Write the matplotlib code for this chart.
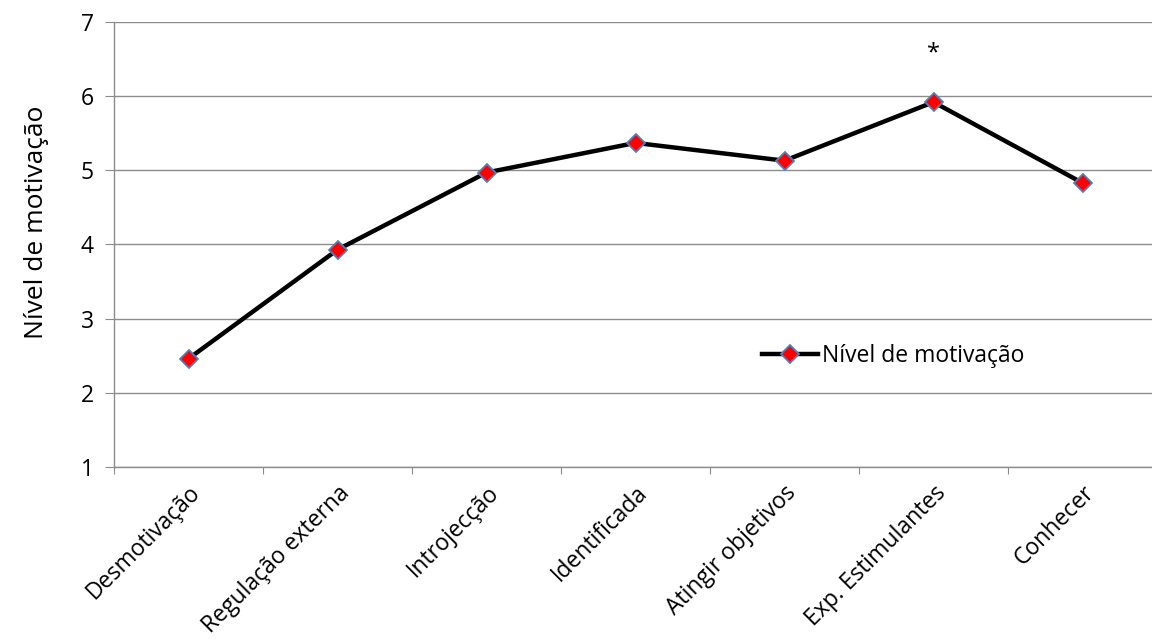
import matplotlib
matplotlib.use("Agg")
import matplotlib.pyplot as plt

categories = ["Desmotivação", "Regulação externa", "Introjecção", "Identificada",
              "Atingir objetivos", "Exp. Estimulantes", "Conhecer"]
values = [2.46, 3.93, 4.97, 5.37, 5.13, 5.92, 4.83]
series_name = "Nível de motivação"
y_ticks = [1, 2, 3, 4, 5, 6, 7]

plt.rcParams['font.family'] = ['Open Sans', 'DejaVu Sans']
FS = 16.5

fig = plt.figure(figsize=(11.52, 6.41), dpi=100)
ax = fig.add_axes([114/1152, (641-467)/641, 1043/1152, 445/641])

x = list(range(len(categories)))
ax.plot(x, values, color='black', linewidth=3.2, marker='D', markersize=9,
        markerfacecolor='#FF0000', markeredgecolor='#4F81BD', markeredgewidth=1.3,
        label=series_name, zorder=3)

ax.set_xlim(-0.5, len(categories) - 0.5)
ax.set_ylim(1, 7)
ax.set_yticks(y_ticks)
ax.yaxis.grid(True, color='#8C8C8C', linewidth=1.0)
ax.set_axisbelow(True)

ax.set_xticks([i - 0.5 for i in x] + [len(categories) - 0.5])
ax.set_xticklabels([])
ax.set_xticks(x, minor=True)
ax.set_xticklabels(categories, minor=True, rotation=45, ha='right',
                   rotation_mode='anchor', fontsize=FS)
ax.tick_params(axis='x', which='minor', length=0, pad=10)
ax.tick_params(axis='x', which='major', length=5, color='#8C8C8C')
ax.tick_params(axis='y', length=6.5, color='#8C8C8C', labelsize=FS, pad=8)

for s in ['top', 'right']:
    ax.spines[s].set_visible(False)
for s in ['left', 'bottom']:
    ax.spines[s].set_color('#8C8C8C')
    ax.spines[s].set_linewidth(1.0)

ax.set_ylabel(series_name, fontsize=19)
ax.yaxis.set_label_coords(-0.062, 0.55)

ax.text(5, 6.57, '*', ha='center', va='center', fontsize=17)

ax.legend(loc='center left', bbox_to_anchor=((762-114)/1043, (467-356)/445),
          frameon=False, fontsize=FS, handlelength=2.45, handletextpad=0.15,
          borderaxespad=0, borderpad=0)

fig.savefig('out.png', dpi=100)
